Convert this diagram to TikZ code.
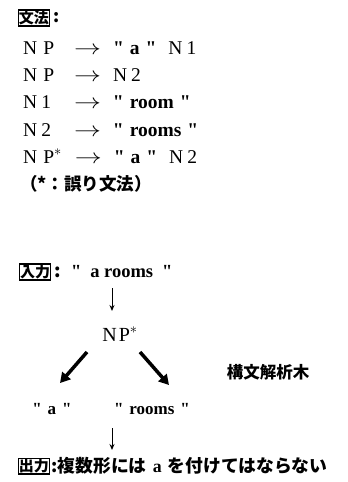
\documentclass[tikz,border=0pt]{standalone}
\usepackage{fontspec}
\usetikzlibrary{arrows.meta}
\setmainfont{Liberation Serif}[Ligatures=TeXOff]
\newfontfamily\jp{Noto Sans CJK JP}
\tikzset{
  lbl/.style={draw, line width=1.1pt, inner sep=0.8pt, font=\jp\bfseries\fontsize{15}{15}\selectfont},
  gr/.style={anchor=base west, inner sep=0pt, font=\fontsize{19.5}{19.5}\selectfont},
  jt/.style={anchor=base west, inner sep=0pt, font=\jp\bfseries\fontsize{17.5}{17.5}\selectfont},
  thin arrow/.style={line width=1pt, -{Stealth[length=6pt,width=5pt]}},
  thick arrow/.style={line width=3.5pt, -{Triangle[length=10pt,width=11pt]}}
}
\newcommand{\ar}{\hspace{20pt}\scalebox{1.3}[1]{$\rightarrow$}\hspace{12pt}}
\newcommand{\q}[1]{{\bfseries"\hspace{6pt}#1\hspace{6pt}"}}
\newcommand{\qq}[1]{{\bfseries"\hspace{9pt}#1\hspace{9pt}"}}
\begin{document}
\begin{tikzpicture}[x=1pt,y=-1pt]
\useasboundingbox (0,0) rectangle (348,482);
% grammar
\node[lbl] (gram) at (34,18) {文法};
\node[jt, anchor=west] (gramc) at ([xshift=3pt]gram.east) {:};
\node[gr] (r1) at (23,54) {N\hspace{6pt}P\ar\q{a}\hspace{12pt}N\hspace{4pt}1};
\node[gr] (r2) at (23,81) {N\hspace{6pt}P\ar N\hspace{4pt}2};
\node[gr] (r3) at (23,108) {N\hspace{4pt}1\hspace{3pt}\ar\q{room}};
\node[gr] (r4) at (23,136) {N\hspace{4pt}2\hspace{3pt}\ar\q{rooms}};
\node[gr] (r5) at (23,163) {N\hspace{6pt}P$^{\ast}$\hspace{-7pt}\ar\q{a}\hspace{12pt}N\hspace{4pt}2};
\node[jt] (note) at (20,190) {（*：誤り文法）};
% input
\node[lbl] (inp) at (35,272) {入力};
\node[anchor=west, inner sep=0pt, font=\fontsize{18.5}{18.5}\selectfont] (inpt) at ([xshift=3pt]inp.east) {{\jp\bfseries :}\hspace{10pt}\qq{a rooms}};
\coordinate (d1s) at (112,288);
\coordinate (d1e) at (112,311);
\draw[thin arrow] (d1s) -- (d1e);
% tree
\node[inner sep=0pt, font=\fontsize{20}{20}\selectfont] (np) at (120,334) {N\hspace{2pt}P$^{\ast}$};
\coordinate (la) at (87,352);
\coordinate (lb) at (60,383);
\coordinate (ra) at (140,352);
\coordinate (rb) at (169,385);
\draw[thick arrow] (la) -- (lb);
\draw[thick arrow] (ra) -- (rb);
\node[inner sep=0pt, font=\jp\bfseries\fontsize{16.5}{16.5}\selectfont] (tree) at (268,372) {構文解析木};
\node[inner sep=0pt, font=\fontsize{17}{17}\selectfont] (la2) at (52,409) {\q{a}};
\node[inner sep=0pt, font=\fontsize{17}{17}\selectfont] (lr) at (152,409) {\q{rooms}};
\coordinate (d2s) at (112,428);
\coordinate (d2e) at (112,450);
\draw[thin arrow] (d2s) -- (d2e);
% output
\node[lbl] (outp) at (34,466) {出力};
\node[anchor=west, inner sep=0pt, font=\jp\bfseries\fontsize{17.8}{17.8}\selectfont] (outt) at ([xshift=1pt]outp.east) {:複数形には\hspace{6pt}{\rmfamily a}\hspace{6pt}を付けてはならない};
\end{tikzpicture}
\end{document}
